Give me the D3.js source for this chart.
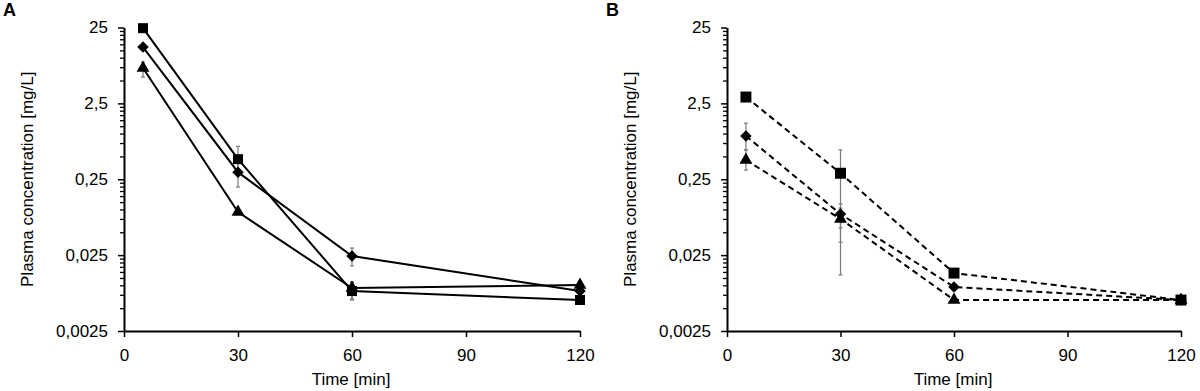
<!DOCTYPE html>
<html>
<head>
<meta charset="utf-8">
<script src="https://cdn.jsdelivr.net/npm/d3@7"></script>
<style>
  html, body { margin: 0; padding: 0; background: #fff; }
  svg text { font-family: "Liberation Sans", Arial, sans-serif; fill: #000; }
</style>
</head>
<body>
<svg id="chart" width="1200" height="391"></svg>
<script>
// ---- data ----
const times = [5, 30, 60, 120];
const xTicks = [0, 30, 60, 90, 120];
const yTicks = [0.0025, 0.025, 0.25, 2.5, 25];
const yTickLabels = ["0,0025", "0,025", "0,25", "2,5", "25"];

// Panel A (solid lines)
const aSquare      = [24.5, 0.46, 0.0084, 0.0064];
const aSquareHi    = [null, 0.68, 0.011, null];
const aSquareLo    = [null, 0.32, 0.0064, null];
const aDiamond     = [13.8, 0.31, 0.0243, 0.0084];
const aDiamondHi   = [null, 0.45, 0.031, null];
const aDiamondLo   = [null, 0.197, 0.018, null];
const aTriangle    = [7.3, 0.0924, 0.0092, 0.0101];
const aTriangleHi  = [8.75, null, 0.011, null];
const aTriangleLo  = [5.55, null, 0.0066, null];

// Panel B (dashed lines)
const bSquare      = [3.03, 0.30, 0.0145, 0.0064];
const bSquareHi    = [null, 0.61, null, null];
const bSquareLo    = [null, 0.0137, null, null];
const bDiamond     = [0.93, 0.087, 0.0095, 0.0064];
const bDiamondHi   = [1.37, 0.118, null, null];
const bDiamondLo   = [0.61, 0.057, null, null];
const bTriangle    = [0.448, 0.075, 0.0064, 0.0064];
const bTriangleHi  = [0.61, 0.104, null, null];
const bTriangleLo  = [0.33, 0.037, null, null];

const panels = [
  { letter: "A", x0: 124, x1: 580, dash: null,
    series: [
      { shape: "square",   v: aSquare,   hi: aSquareHi,   lo: aSquareLo },
      { shape: "diamond",  v: aDiamond,  hi: aDiamondHi,  lo: aDiamondLo },
      { shape: "triangle", v: aTriangle, hi: aTriangleHi, lo: aTriangleLo }
    ] },
  { letter: "B", x0: 727, x1: 1181, dash: "6,4",
    series: [
      { shape: "square",   v: bSquare,   hi: bSquareHi,   lo: bSquareLo },
      { shape: "diamond",  v: bDiamond,  hi: bDiamondHi,  lo: bDiamondLo },
      { shape: "triangle", v: bTriangle, hi: bTriangleHi, lo: bTriangleLo }
    ] }
];

const svg = d3.select("#chart");
const yTop = 27.5, yBot = 331;
const FS = 17;

// minor ticks
const minorTicks = [];
for (let k = 0; k < 4; k++) {
  const base = 0.0025 * Math.pow(10, k);
  for (let m = 2; m <= 9; m++) minorTicks.push(base * m);
}

panels.forEach(p => {
  const g = svg.append("g");
  const x = d3.scaleLinear().domain([0, 120]).range([p.x0, p.x1]);
  const y = d3.scaleLog().domain([0.0025, 25]).range([yBot, yTop]);

  // minor y ticks
  const minorAx = g.append("g").attr("transform", `translate(${p.x0},0)`)
    .call(d3.axisLeft(y).tickValues(minorTicks).tickSize(4).tickSizeOuter(0).tickFormat(() => ""));
  minorAx.select(".domain").remove();
  minorAx.selectAll("line").attr("stroke", "#000").attr("stroke-width", 1.3);

  // major y axis
  const yAx = g.append("g").attr("transform", `translate(${p.x0},0)`)
    .call(d3.axisLeft(y).tickValues(yTicks).tickSize(6).tickSizeOuter(0).tickPadding(10)
      .tickFormat((d, i) => yTickLabels[i]));
  yAx.select(".domain").attr("stroke", "#000").attr("stroke-width", 2);
  yAx.selectAll("line").attr("stroke", "#000").attr("stroke-width", 1.5);
  yAx.selectAll("text").style("font-size", FS + "px").attr("font-family", "Liberation Sans, Arial, sans-serif");

  // x axis
  const xAx = g.append("g").attr("transform", `translate(0,${yBot})`)
    .call(d3.axisBottom(x).tickValues(xTicks).tickSize(6).tickSizeOuter(0).tickPadding(12));
  xAx.select(".domain").attr("stroke", "#000").attr("stroke-width", 2);
  xAx.selectAll("line").attr("stroke", "#000").attr("stroke-width", 1.5);
  xAx.selectAll("text").style("font-size", FS + "px").attr("font-family", "Liberation Sans, Arial, sans-serif");

  // axis titles
  g.append("text").attr("transform", `translate(${p.x0 - 91},${(yTop + yBot) / 2}) rotate(-90)`)
    .attr("text-anchor", "middle").style("font-size", FS + "px")
    .text("Plasma concentration [mg/L]");
  g.append("text").attr("x", (p.x0 + p.x1) / 2 - 1).attr("y", 385)
    .attr("text-anchor", "middle").style("font-size", FS + "px")
    .text("Time [min]");
  // panel letter
  g.append("text").attr("x", p.x0 - 121).attr("y", 16)
    .style("font-size", "18px").style("font-weight", "bold").text(p.letter);

  // error bars
  p.series.forEach(s => {
    times.forEach((t, i) => {
      if (s.hi[i] == null) return;
      const cx = x(t), yh = y(s.hi[i]), yl = y(s.lo[i]);
      g.append("line").attr("x1", cx).attr("x2", cx).attr("y1", yh).attr("y2", yl)
        .attr("stroke", "#7a7a7a").attr("stroke-width", 1.2);
      [yh, yl].forEach(yy => g.append("line").attr("x1", cx - 2).attr("x2", cx + 2)
        .attr("y1", yy).attr("y2", yy).attr("stroke", "#7a7a7a").attr("stroke-width", 1.2));
    });
  });

  // lines
  const line = d3.line().x((d, i) => x(times[i])).y(d => y(d));
  p.series.forEach(s => {
    g.append("path").attr("d", line(s.v)).attr("fill", "none")
      .attr("stroke", "#000").attr("stroke-width", 2)
      .attr("stroke-dasharray", p.dash);
  });

  // markers
  const sym = {
    square: d3.symbol().type(d3.symbolSquare).size(p.letter === "A" ? 100 : 120),
    diamond: d3.symbol().type(d3.symbolSquare).size(66),
    triangle: d3.symbol().type(d3.symbolTriangle).size(72)
  };
  p.series.forEach(s => {
    s.v.forEach((v, i) => {
      g.append("path").attr("d", sym[s.shape]())
        .attr("transform", `translate(${x(times[i])},${y(v)})` + (s.shape === "diamond" ? " rotate(45)" : ""))
        .attr("fill", "#000");
    });
  });
});
</script>
</body>
</html>
